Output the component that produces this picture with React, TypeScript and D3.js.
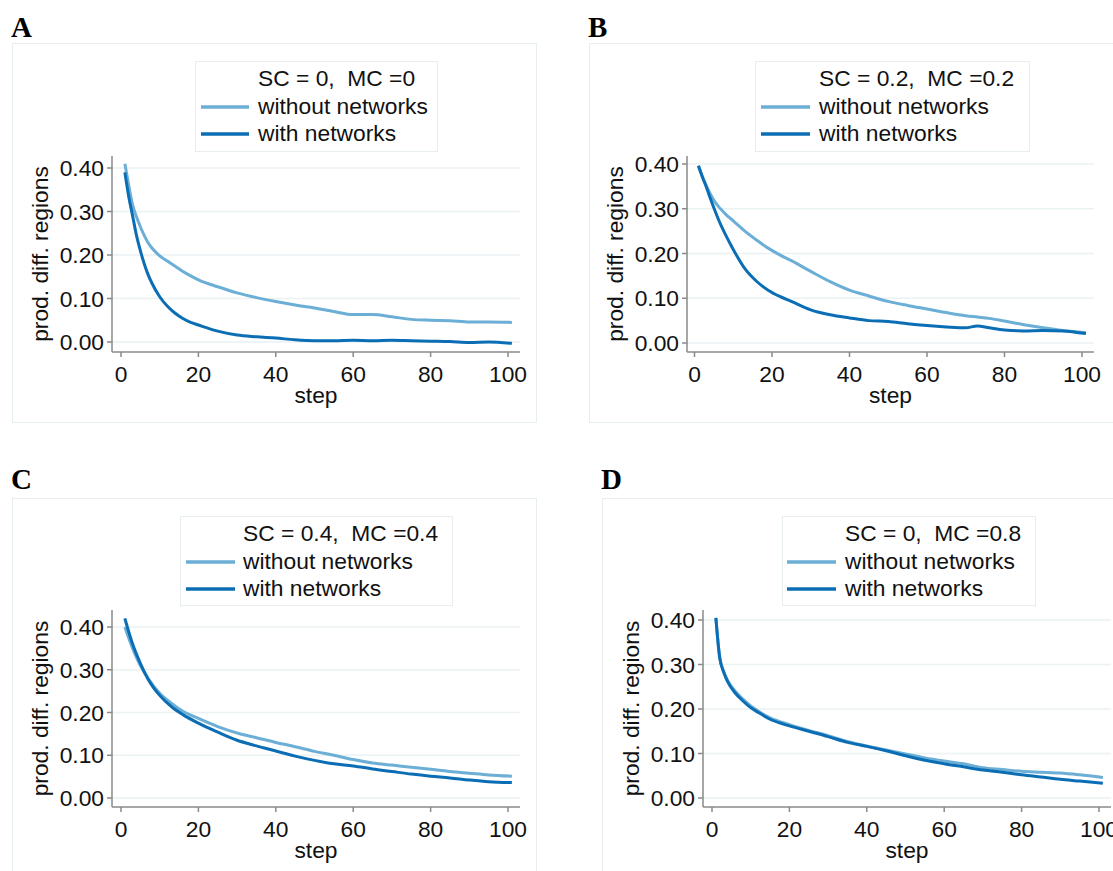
import React from 'react';
import * as d3 from 'd3';

// ---------- data ----------
const Y_TICKS = [0, 0.1, 0.2, 0.3, 0.4];
const X_TICKS = [0, 20, 40, 60, 80, 100];
const SERIES_NAMES = ['without networks', 'with networks'];
const PANEL_LABELS = ['A', 'B', 'C', 'D'];
const PANEL_TITLES = ['SC = 0,  MC =0', 'SC = 0.2,  MC =0.2', 'SC = 0.4,  MC =0.4', 'SC = 0,  MC =0.8'];
const X_LABEL = 'step';
const Y_LABEL = 'prod. diff. regions';

const STEPS_A = [1, 2, 3, 4, 5, 6, 7, 8, 10, 12, 14, 16, 18, 20, 25, 30, 35, 40, 45, 50, 55, 60, 65, 70, 75, 80, 85, 90, 95, 101];
const A_WITHOUT = [0.41, 0.36, 0.315, 0.288, 0.265, 0.245, 0.228, 0.216, 0.198, 0.186, 0.174, 0.162, 0.152, 0.143, 0.127, 0.113, 0.102, 0.093, 0.085, 0.078, 0.07, 0.063, 0.063, 0.058, 0.052, 0.05, 0.049, 0.046, 0.046, 0.045];
const A_WITH = [0.39, 0.334, 0.29, 0.245, 0.21, 0.18, 0.155, 0.135, 0.104, 0.082, 0.066, 0.054, 0.045, 0.039, 0.025, 0.016, 0.012, 0.009, 0.005, 0.003, 0.003, 0.004, 0.003, 0.004, 0.003, 0.002, 0.001, -0.001, 0.0, -0.003];

const STEPS_B = [1, 2, 3, 4, 5, 6, 7, 8, 10, 13, 16, 19, 22, 25, 30, 35, 40, 45, 50, 55, 60, 65, 70, 73, 76, 80, 85, 90, 95, 101];
const B_WITHOUT = [0.396, 0.372, 0.352, 0.334, 0.319, 0.307, 0.297, 0.288, 0.273, 0.25, 0.23, 0.212, 0.197, 0.184, 0.16, 0.137, 0.118, 0.105, 0.093, 0.084, 0.076, 0.068, 0.061, 0.058, 0.055, 0.049, 0.041, 0.034, 0.028, 0.023];
const B_WITH = [0.396, 0.372, 0.35, 0.325, 0.302, 0.28, 0.26, 0.242, 0.209, 0.166, 0.138, 0.118, 0.104, 0.093, 0.074, 0.063, 0.056, 0.05, 0.048, 0.043, 0.039, 0.036, 0.034, 0.038, 0.034, 0.029, 0.027, 0.028, 0.027, 0.021];

const STEPS_C = [1, 3, 5, 7, 10, 13, 16, 20, 25, 30, 35, 40, 45, 50, 55, 60, 65, 70, 75, 80, 85, 90, 95, 101];
const C_WITHOUT = [0.40, 0.35, 0.31, 0.28, 0.245, 0.222, 0.203, 0.186, 0.167, 0.152, 0.141, 0.13, 0.12, 0.109, 0.1, 0.09, 0.082, 0.077, 0.072, 0.067, 0.062, 0.058, 0.054, 0.051];
const C_WITH = [0.42, 0.36, 0.315, 0.278, 0.24, 0.214, 0.195, 0.175, 0.154, 0.135, 0.122, 0.11, 0.098, 0.088, 0.08, 0.075, 0.068, 0.062, 0.056, 0.051, 0.047, 0.042, 0.038, 0.036];

const STEPS_D = [1, 2, 3, 4, 6, 8, 10, 12, 15, 20, 25, 30, 35, 40, 45, 50, 55, 60, 65, 70, 75, 80, 85, 90, 95, 101];
const D_WITHOUT = [0.405, 0.315, 0.285, 0.265, 0.24, 0.222, 0.207, 0.195, 0.18, 0.165, 0.152, 0.14, 0.127, 0.117, 0.108, 0.099, 0.09, 0.083, 0.077, 0.068, 0.064, 0.06, 0.058, 0.056, 0.052, 0.046];
const D_WITH = [0.405, 0.315, 0.283, 0.262, 0.236, 0.218, 0.203, 0.192, 0.177, 0.162, 0.15, 0.138, 0.125, 0.116, 0.106, 0.095, 0.085, 0.077, 0.07, 0.063, 0.058, 0.052, 0.047, 0.042, 0.038, 0.033];

const PANEL_DATA = [
  { steps: STEPS_A, without: A_WITHOUT, withN: A_WITH },
  { steps: STEPS_B, without: B_WITHOUT, withN: B_WITH },
  { steps: STEPS_C, without: C_WITHOUT, withN: C_WITH },
  { steps: STEPS_D, without: D_WITHOUT, withN: D_WITH },
];

// ---------- layout / style ----------
const LIGHT = '#6baed6';
const DARK = '#0b6eb5';
const GRID = '#eaf2f3';
const AXIS = '#8a8a8a';
const BORDER = '#e6eeee';
const FONT = 'Liberation Sans, Arial, sans-serif';
const FS = 22.8;

const LAYOUTS = [
  {
    frame: { x: 12, y: 43, w: 524, h: 379 }, label: { x: 11, y: 37 },
    legend: { x: 195, y: 61, w: 242, h: 90, l1: 201, l2: 249, tx: 258 },
    plot: { left: 112, right: 520, top: 156, bottom: 352, x0: 121, x100: 508, y0: 342, y40: 168 },
  },
  {
    frame: { x: 589, y: 43, w: 540, h: 379 }, label: { x: 588, y: 37 },
    legend: { x: 755, y: 61, w: 274, h: 90, l1: 761, l2: 810, tx: 819 },
    plot: { left: 687, right: 1094, top: 156, bottom: 352, x0: 694.5, x100: 1082, y0: 343, y40: 164 },
  },
  {
    frame: { x: 12, y: 498, w: 524, h: 400 }, label: { x: 11, y: 489 },
    legend: { x: 180, y: 516, w: 272, h: 89, l1: 186, l2: 235, tx: 243 },
    plot: { left: 112, right: 520, top: 610, bottom: 807, x0: 121, x100: 508, y0: 798, y40: 627 },
  },
  {
    frame: { x: 602, y: 498, w: 540, h: 400 }, label: { x: 601, y: 489 },
    legend: { x: 782, y: 516, w: 253, h: 89, l1: 787, l2: 836, tx: 845 },
    plot: { left: 703, right: 1111, top: 610, bottom: 807, x0: 712, x100: 1099, y0: 798, y40: 620 },
  },
];

function Panel({ idx }: { idx: number }) {
  const L = LAYOUTS[idx];
  const D = PANEL_DATA[idx];
  const p = L.plot;
  const x = d3.scaleLinear().domain([0, 100]).range([p.x0, p.x100]);
  const y = d3.scaleLinear().domain([0, 0.4]).range([p.y0, p.y40]);
  const line = d3
    .line<[number, number]>()
    .x((d) => x(d[0]))
    .y((d) => y(d[1]))
    .curve(d3.curveMonotoneX);
  const pts = (vals: number[]) => D.steps.map((s, i) => [s, vals[i]] as [number, number]);
  const fmt = d3.format('.2f');
  const lg = L.legend;
  return (
    <g>
      <rect x={L.frame.x + 0.5} y={L.frame.y + 0.5} width={L.frame.w} height={L.frame.h} fill="#fff" stroke={BORDER} strokeWidth={1} />
      <text x={L.label.x} y={L.label.y} fontFamily="Liberation Serif, Times New Roman, serif" fontWeight="bold" fontSize={29} fill="#000">
        {PANEL_LABELS[idx]}
      </text>
      {/* legend */}
      <rect x={lg.x + 0.5} y={lg.y + 0.5} width={lg.w} height={lg.h} fill="#fff" stroke={BORDER} strokeWidth={1} />
      <text x={lg.tx} y={lg.y + 25} fontFamily={FONT} fontSize={FS} fill="#111" style={{ whiteSpace: 'pre' }}>
        {PANEL_TITLES[idx]}
      </text>
      {SERIES_NAMES.map((name, i) => (
        <g key={name}>
          <line x1={lg.l1} x2={lg.l2} y1={lg.y + 46 + i * 27} y2={lg.y + 46 + i * 27} stroke={i === 0 ? LIGHT : DARK} strokeWidth={3.5} />
          <text x={lg.tx} y={lg.y + 53 + i * 27} fontFamily={FONT} fontSize={FS} fill="#111">
            {name}
          </text>
        </g>
      ))}
      {/* grid */}
      {Y_TICKS.map((t) => (
        <line key={'g' + t} x1={p.left} x2={p.right} y1={y(t)} y2={y(t)} stroke={GRID} strokeWidth={1.5} />
      ))}
      {/* axes */}
      <line x1={p.left} x2={p.left} y1={p.top} y2={p.bottom} stroke={AXIS} strokeWidth={1.5} />
      <line x1={p.left} x2={p.right} y1={p.bottom} y2={p.bottom} stroke={AXIS} strokeWidth={1.5} />
      {Y_TICKS.map((t) => (
        <g key={'y' + t}>
          <line x1={p.left - 5} x2={p.left} y1={y(t)} y2={y(t)} stroke={AXIS} strokeWidth={1.5} />
          <text x={p.left - 8} y={y(t)} dy="0.36em" textAnchor="end" fontFamily={FONT} fontSize={FS} fill="#111">
            {fmt(t)}
          </text>
        </g>
      ))}
      {X_TICKS.map((t) => (
        <g key={'x' + t}>
          <line x1={x(t)} x2={x(t)} y1={p.bottom} y2={p.bottom + 5} stroke={AXIS} strokeWidth={1.5} />
          <text x={x(t)} y={p.bottom + 30} textAnchor="middle" fontFamily={FONT} fontSize={FS} fill="#111">
            {t}
          </text>
        </g>
      ))}
      <text x={(p.left + p.right) / 2} y={p.bottom + 51} textAnchor="middle" fontFamily={FONT} fontSize={FS} fill="#111">
        {X_LABEL}
      </text>
      <text
        transform={`translate(${p.left - 64},${(p.top + p.bottom) / 2}) rotate(-90)`}
        textAnchor="middle"
        fontFamily={FONT}
        fontSize={FS}
        fill="#111"
      >
        {Y_LABEL}
      </text>
      {/* series */}
      <path d={line(pts(D.without)) || ''} fill="none" stroke={LIGHT} strokeWidth={3} strokeLinejoin="round" />
      <path d={line(pts(D.withN)) || ''} fill="none" stroke={DARK} strokeWidth={3} strokeLinejoin="round" />
    </g>
  );
}

export default function App() {
  return (
    <svg
      width={1113}
      height={871}
      viewBox="0 0 1113 871"
      style={{ position: 'absolute', left: 0, top: 0, background: '#fff' }}
    >
      <rect x={0} y={0} width={1113} height={871} fill="#fff" />
      {[0, 1, 2, 3].map((i) => (
        <Panel key={i} idx={i} />
      ))}
    </svg>
  );
}
